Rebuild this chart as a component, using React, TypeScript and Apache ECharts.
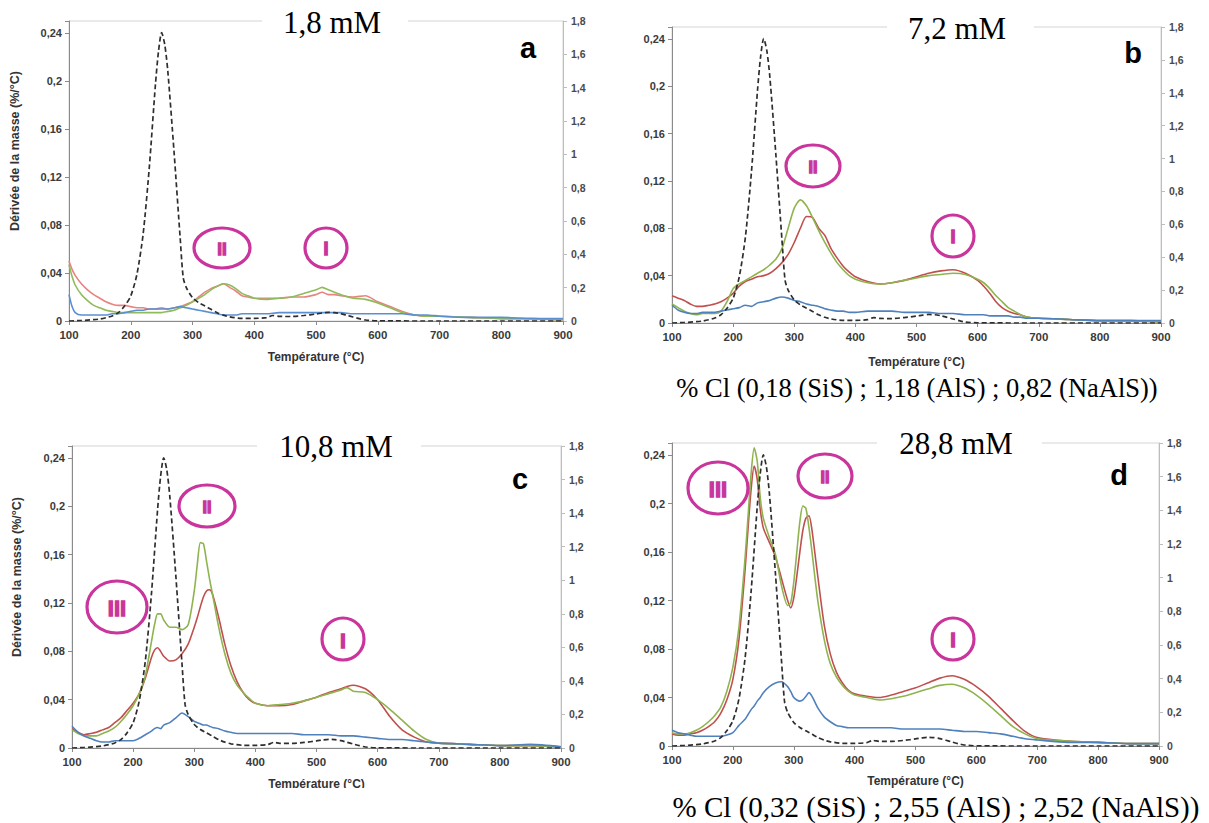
import React, { useEffect, useRef } from "react";
import * as echarts from "echarts";

// ---------- DATA ----------
// Dashed reference curve (right axis), identical in the four panels
const DASH_T = [100, 120, 140, 150, 160, 170, 180, 190, 200, 210, 220, 230, 240, 245, 250, 255, 260, 270, 280, 285, 290, 300, 310, 320, 330, 340, 350, 360, 380, 400, 420, 430, 440, 460, 480, 500, 510, 520, 530, 540, 550, 560, 570, 580, 600, 700, 800, 900];
const DASH_V = [0, 0.003, 0.008, 0.012, 0.02, 0.03, 0.05, 0.09, 0.15, 0.28, 0.52, 0.92, 1.42, 1.62, 1.73, 1.66, 1.5, 1.02, 0.5, 0.26, 0.2, 0.14, 0.11, 0.09, 0.07, 0.05, 0.035, 0.025, 0.016, 0.016, 0.02, 0.033, 0.028, 0.027, 0.033, 0.042, 0.048, 0.052, 0.05, 0.044, 0.034, 0.024, 0.014, 0.006, 0.001, 0, 0, 0];

// Panel a : 1,8 mM
const A_T = [100, 105, 110, 120, 130, 140, 150, 160, 170, 180, 190, 200, 210, 220, 230, 240, 250, 260, 270, 280, 290, 300, 310, 320, 330, 340, 350, 360, 370, 380, 390, 400, 420, 440, 460, 480, 500, 510, 520, 530, 540, 560, 580, 600, 620, 640, 660, 680, 700, 750, 800, 850, 900];
const A_RED = [0.05, 0.043, 0.038, 0.031, 0.026, 0.022, 0.019, 0.016, 0.014, 0.013, 0.013, 0.012, 0.011, 0.011, 0.01, 0.01, 0.011, 0.01, 0.011, 0.012, 0.014, 0.016, 0.02, 0.024, 0.027, 0.029, 0.031, 0.028, 0.025, 0.021, 0.02, 0.019, 0.019, 0.019, 0.02, 0.02, 0.022, 0.024, 0.022, 0.022, 0.021, 0.02, 0.021, 0.016, 0.012, 0.008, 0.005, 0.004, 0.004, 0.003, 0.002, 0.002, 0.001];
const A_GREEN = [0.047, 0.037, 0.03, 0.022, 0.017, 0.013, 0.011, 0.009, 0.008, 0.007, 0.007, 0.007, 0.007, 0.007, 0.007, 0.007, 0.007, 0.008, 0.009, 0.011, 0.013, 0.016, 0.019, 0.022, 0.026, 0.029, 0.031, 0.03, 0.027, 0.023, 0.021, 0.019, 0.018, 0.019, 0.02, 0.023, 0.026, 0.028, 0.026, 0.024, 0.022, 0.019, 0.018, 0.015, 0.011, 0.007, 0.005, 0.004, 0.004, 0.003, 0.002, 0.002, 0.001];
const A_BLUE = [0.022, 0.012, 0.007, 0.005, 0.005, 0.005, 0.005, 0.005, 0.006, 0.006, 0.007, 0.008, 0.009, 0.009, 0.01, 0.01, 0.01, 0.01, 0.011, 0.012, 0.011, 0.01, 0.009, 0.008, 0.007, 0.006, 0.005, 0.005, 0.005, 0.006, 0.006, 0.006, 0.006, 0.007, 0.007, 0.007, 0.007, 0.007, 0.007, 0.007, 0.007, 0.006, 0.006, 0.006, 0.006, 0.006, 0.005, 0.005, 0.004, 0.003, 0.003, 0.002, 0.002];

// Panel b : 7,2 mM
const B_T = [100, 110, 120, 130, 140, 150, 160, 170, 180, 190, 200, 210, 220, 230, 240, 250, 260, 270, 280, 290, 300, 310, 320, 330, 340, 350, 360, 370, 380, 390, 400, 420, 440, 460, 480, 500, 520, 540, 560, 580, 600, 610, 620, 630, 640, 650, 660, 670, 680, 700, 750, 800, 850, 900];
const B_RED = [0.023, 0.021, 0.019, 0.016, 0.014, 0.014, 0.015, 0.016, 0.018, 0.021, 0.025, 0.031, 0.035, 0.037, 0.039, 0.04, 0.042, 0.046, 0.051, 0.058, 0.068, 0.08, 0.09, 0.089, 0.08, 0.074, 0.063, 0.055, 0.048, 0.043, 0.039, 0.035, 0.033, 0.034, 0.036, 0.039, 0.042, 0.044, 0.045, 0.042, 0.036, 0.031, 0.025, 0.018, 0.013, 0.01, 0.008, 0.007, 0.005, 0.004, 0.003, 0.002, 0.002, 0.001];
const B_GREEN = [0.016, 0.013, 0.01, 0.008, 0.007, 0.008, 0.008, 0.008, 0.01, 0.018, 0.029, 0.033, 0.036, 0.039, 0.042, 0.045, 0.049, 0.054, 0.063, 0.08, 0.097, 0.104, 0.099, 0.089, 0.078, 0.068, 0.059, 0.051, 0.045, 0.04, 0.037, 0.034, 0.033, 0.034, 0.036, 0.038, 0.04, 0.041, 0.042, 0.041, 0.037, 0.034, 0.029, 0.023, 0.018, 0.013, 0.01, 0.007, 0.005, 0.004, 0.003, 0.002, 0.002, 0.001];
const B_BLUE = [0.015, 0.011, 0.009, 0.008, 0.008, 0.009, 0.009, 0.009, 0.01, 0.011, 0.012, 0.013, 0.015, 0.014, 0.017, 0.018, 0.019, 0.021, 0.022, 0.021, 0.019, 0.018, 0.016, 0.015, 0.014, 0.012, 0.011, 0.01, 0.01, 0.009, 0.009, 0.01, 0.01, 0.01, 0.009, 0.009, 0.009, 0.008, 0.008, 0.007, 0.007, 0.007, 0.006, 0.006, 0.006, 0.006, 0.005, 0.005, 0.004, 0.004, 0.003, 0.002, 0.002, 0.002];

// Panel c : 10,8 mM
const C_T = [100, 110, 120, 130, 140, 150, 160, 170, 180, 190, 200, 210, 220, 230, 235, 240, 245, 250, 260, 270, 280, 290, 300, 305, 310, 315, 320, 325, 330, 340, 350, 360, 370, 380, 390, 400, 420, 440, 460, 480, 500, 520, 540, 550, 560, 580, 600, 620, 640, 660, 680, 700, 750, 800, 850, 900];
const C_GREEN = [0.015, 0.012, 0.01, 0.01, 0.01, 0.012, 0.014, 0.017, 0.022, 0.028, 0.035, 0.045, 0.06, 0.088, 0.102, 0.111, 0.111, 0.106, 0.1, 0.1, 0.098, 0.102, 0.13, 0.152, 0.17, 0.169, 0.155, 0.14, 0.127, 0.1, 0.078, 0.062, 0.052, 0.046, 0.041, 0.037, 0.035, 0.036, 0.037, 0.039, 0.042, 0.045, 0.048, 0.05, 0.047, 0.046, 0.04, 0.032, 0.023, 0.014, 0.007, 0.004, 0.003, 0.002, 0.002, 0.001];
const C_RED = [0.016, 0.013, 0.011, 0.012, 0.013, 0.015, 0.017, 0.021, 0.025, 0.031, 0.037, 0.045, 0.058, 0.075, 0.081, 0.083, 0.08, 0.076, 0.072, 0.073, 0.078, 0.086, 0.1, 0.108, 0.117, 0.125, 0.13, 0.131, 0.127, 0.108, 0.086, 0.068, 0.055, 0.046, 0.04, 0.037, 0.035, 0.035, 0.036, 0.039, 0.042, 0.046, 0.049, 0.051, 0.052, 0.049, 0.04, 0.026, 0.015, 0.009, 0.005, 0.004, 0.003, 0.002, 0.002, 0.001];
const C_BLUE = [0.018, 0.013, 0.01, 0.008, 0.006, 0.005, 0.005, 0.006, 0.006, 0.006, 0.006, 0.008, 0.011, 0.014, 0.016, 0.017, 0.016, 0.019, 0.021, 0.025, 0.029, 0.026, 0.022, 0.021, 0.02, 0.019, 0.019, 0.018, 0.017, 0.016, 0.014, 0.013, 0.012, 0.012, 0.012, 0.012, 0.012, 0.012, 0.012, 0.011, 0.011, 0.011, 0.01, 0.01, 0.01, 0.009, 0.008, 0.007, 0.007, 0.006, 0.005, 0.004, 0.003, 0.002, 0.003, 0.001];

// Panel d : 28,8 mM
const D_T = [100, 110, 120, 130, 140, 150, 160, 170, 180, 190, 200, 210, 220, 225, 230, 235, 240, 245, 250, 260, 270, 280, 290, 295, 300, 305, 310, 315, 320, 325, 330, 335, 340, 350, 360, 370, 380, 390, 400, 420, 440, 460, 480, 500, 520, 540, 560, 580, 600, 620, 640, 660, 680, 700, 750, 800, 850, 900];
const D_GREEN = [0.011, 0.01, 0.01, 0.011, 0.013, 0.016, 0.02, 0.025, 0.032, 0.045, 0.065, 0.098, 0.155, 0.19, 0.225, 0.246, 0.235, 0.205, 0.188, 0.172, 0.158, 0.132, 0.116, 0.118, 0.135, 0.16, 0.185, 0.198, 0.196, 0.18, 0.16, 0.138, 0.118, 0.088, 0.068, 0.057, 0.05, 0.045, 0.042, 0.04, 0.038, 0.039, 0.041, 0.044, 0.047, 0.05, 0.051, 0.048, 0.042, 0.034, 0.025, 0.016, 0.01, 0.006, 0.004, 0.003, 0.002, 0.002];
const D_RED = [0.01, 0.009, 0.009, 0.01, 0.011, 0.013, 0.016, 0.02, 0.027, 0.038, 0.055, 0.088, 0.145, 0.18, 0.212, 0.231, 0.22, 0.195, 0.18, 0.168, 0.156, 0.138, 0.12, 0.114, 0.122, 0.14, 0.16, 0.178, 0.188, 0.19, 0.178, 0.158, 0.138, 0.1, 0.076, 0.061, 0.052, 0.046, 0.043, 0.041, 0.04, 0.042, 0.045, 0.048, 0.052, 0.056, 0.058, 0.055, 0.049, 0.041, 0.031, 0.021, 0.012, 0.007, 0.004, 0.003, 0.002, 0.002];
const D_BLUE = [0.013, 0.011, 0.01, 0.009, 0.008, 0.008, 0.008, 0.008, 0.008, 0.009, 0.011, 0.017, 0.022, 0.026, 0.03, 0.033, 0.037, 0.04, 0.044, 0.049, 0.052, 0.053, 0.049, 0.045, 0.04, 0.038, 0.037, 0.038, 0.041, 0.044, 0.041, 0.036, 0.031, 0.024, 0.02, 0.017, 0.016, 0.015, 0.015, 0.015, 0.015, 0.015, 0.014, 0.014, 0.014, 0.014, 0.013, 0.012, 0.012, 0.011, 0.01, 0.008, 0.006, 0.005, 0.003, 0.003, 0.002, 0.002];

// Text
const TITLES = ["1,8 mM", "7,2 mM", "10,8 mM", "28,8 mM"];
const LETTERS = ["a", "b", "c", "d"];
const CAPTION_B = "% Cl (0,18 (SiS) ; 1,18 (AlS) ; 0,82 (NaAlS))";
const CAPTION_D = "% Cl (0,32 (SiS) ; 2,55 (AlS) ; 2,52 (NaAlS))";
const Y_NAME = "Dérivée de la masse (%/°C)";
const X_NAME = "Température (°C)";

// ---------- LAYOUT ----------
const SANS = "'Liberation Sans', Arial, Helvetica, sans-serif";
const SERIF = "'Liberation Serif', 'Times New Roman', serif";
const MAG = "#c9359c";

const PANELS = [
  { grid: { left: 69, top: 21, width: 494, height: 300 }, t: A_T, red: A_RED, green: A_GREEN, blue: A_BLUE,
    colors: ["#e8847f", "#8fbb5c", "#5b8fd0"], nameGap: 30 },
  { grid: { left: 672, top: 27, width: 489, height: 296 }, t: B_T, red: B_RED, green: B_GREEN, blue: B_BLUE,
    colors: ["#c0504d", "#8fb34f", "#4f81bd"], nameGap: 33 },
  { grid: { left: 72, top: 446, width: 489, height: 302 }, t: C_T, red: C_RED, green: C_GREEN, blue: C_BLUE,
    colors: ["#c0504d", "#8fb34f", "#4f81bd"], nameGap: 30 },
  { grid: { left: 672, top: 443, width: 487, height: 303 }, t: D_T, red: D_RED, green: D_GREEN, blue: D_BLUE,
    colors: ["#c0504d", "#8fb34f", "#4f81bd"], nameGap: 29 },
];

const TITLE_POS = [
  { gap: [262, 408], x: 332, y: 22 },
  { gap: [887, 1034], x: 957, y: 28 },
  { gap: [257, 421], x: 336, y: 446 },
  { gap: [877, 1042], x: 956, y: 443 },
];
const LETTER_POS = [[528, 48], [1133, 53], [520, 479], [1119, 475]];

const CIRCLES = [
  { cx: 222, cy: 248, rx: 28, ry: 20, label: "II", fs: 17 },
  { cx: 326, cy: 248, rx: 21, ry: 20, label: "I", fs: 18 },
  { cx: 813, cy: 166, rx: 27, ry: 21, label: "II", fs: 16 },
  { cx: 953, cy: 236, rx: 21, ry: 21, label: "I", fs: 18 },
  { cx: 117, cy: 607, rx: 30, ry: 26, label: "III", fs: 22 },
  { cx: 207, cy: 506, rx: 28, ry: 21, label: "II", fs: 16 },
  { cx: 343, cy: 639, rx: 21, ry: 21, label: "I", fs: 21 },
  { cx: 718, cy: 488, rx: 30, ry: 26, label: "III", fs: 22 },
  { cx: 825, cy: 476, rx: 27, ry: 22, label: "II", fs: 16 },
  { cx: 953, cy: 639, rx: 21, ry: 21, label: "I", fs: 20 },
];

const fmt = (v: number, d: number) => String(parseFloat(v.toFixed(d))).replace(".", ",");
const pair = (t: number[], v: number[]) => t.map((x, i) => [x, v[i]]);

function buildOption() {
  const grid: any[] = [];
  const xAxis: any[] = [];
  const yAxis: any[] = [];
  const series: any[] = [];
  PANELS.forEach((p, i) => {
    grid.push({ ...p.grid, show: true, borderColor: "#d4d4d4", borderWidth: 1, backgroundColor: "transparent" });
    xAxis.push({
      type: "value", gridIndex: i, min: 100, max: 900, interval: 100,
      axisLine: { show: true, lineStyle: { color: "#8a8a8a", width: 1 } },
      axisTick: { show: true, length: 4, lineStyle: { color: "#8a8a8a" } },
      splitLine: { show: false },
      axisLabel: { margin: 8, color: "#3a3a3a", fontSize: 11.5, fontWeight: "bold", fontFamily: SANS },
      name: X_NAME, nameLocation: "middle", nameGap: p.nameGap,
      nameTextStyle: { color: "#333", fontSize: 12, fontWeight: "bold", fontFamily: SANS },
    });
    yAxis.push({
      type: "value", gridIndex: i, min: 0, max: 0.25, interval: 0.04, position: "left",
      axisLine: { show: true, lineStyle: { color: "#8a8a8a", width: 1 } },
      axisTick: { show: true, length: 4, lineStyle: { color: "#8a8a8a" } },
      splitLine: { show: false },
      axisLabel: {
        margin: 7, color: "#3a3a3a", fontSize: 11, fontWeight: "bold", fontFamily: SANS,
        formatter: (v: number) => (v > 0.245 ? "" : fmt(v, 2)),
      },
    });
    yAxis.push({
      type: "value", gridIndex: i, min: 0, max: 1.8, interval: 0.2, position: "right",
      axisLine: { show: true, lineStyle: { color: "#bdbdbd", width: 1 } },
      axisTick: { show: true, length: 4, lineStyle: { color: "#bdbdbd" } },
      splitLine: { show: false },
      axisLabel: { margin: 8, color: "#4a4a4a", fontSize: 10.5, fontWeight: "bold", fontFamily: SANS, formatter: (v: number) => fmt(v, 1) },
    });
    const vals = [p.red, p.green, p.blue];
    vals.forEach((v, k) => {
      series.push({
        type: "line", xAxisIndex: i, yAxisIndex: 2 * i, data: pair(p.t, v),
        symbol: "none", smooth: 0.25, silent: true,
        lineStyle: { color: p.colors[k], width: 1.6 },
      });
    });
    series.push({
      type: "line", xAxisIndex: i, yAxisIndex: 2 * i + 1, data: pair(DASH_T, DASH_V),
      symbol: "none", smooth: 0.25, silent: true,
      lineStyle: { color: "#2e2e2e", width: 1.7, type: [5, 3] },
    });
  });

  const graphic: any[] = [];
  TITLE_POS.forEach((tp, i) => {
    graphic.push({ type: "rect", z: 100, shape: { x: tp.gap[0], y: tp.y - 12, width: tp.gap[1] - tp.gap[0], height: 20 }, style: { fill: "#ffffff" } });
    graphic.push({ type: "text", z: 101, x: tp.x, y: tp.y, style: { text: TITLES[i], fontSize: 31, fontFamily: SERIF, fill: "#000", align: "center", verticalAlign: "middle" } });
    graphic.push({ type: "text", z: 101, x: LETTER_POS[i][0], y: LETTER_POS[i][1], style: { text: LETTERS[i], fontSize: 29, fontWeight: "bold", fontFamily: SANS, fill: "#000", align: "center", verticalAlign: "middle" } });
  });
  CIRCLES.forEach((c) => {
    graphic.push({ type: "ellipse", z: 101, shape: { cx: c.cx, cy: c.cy, rx: c.rx, ry: c.ry }, style: { fill: "none", stroke: MAG, lineWidth: 3.2 } });
    graphic.push({ type: "text", z: 102, x: c.cx, y: c.cy + 1, style: { text: c.label, fontSize: c.fs, fontWeight: "bold", fontFamily: SANS, fill: MAG, stroke: MAG, lineWidth: 1.3, align: "center", verticalAlign: "middle" } });
  });
  // clip bottom of panel c's axis title
  graphic.push({ type: "rect", z: 100, shape: { x: 0, y: 788, width: 600, height: 40 }, style: { fill: "#ffffff" } });
  graphic.push({ type: "text", z: 101, x: 917, y: 388, style: { text: CAPTION_B, fontSize: 26.5, fontFamily: SERIF, fill: "#000", align: "center", verticalAlign: "middle" } });
  graphic.push({ type: "text", z: 101, x: 936, y: 807, style: { text: CAPTION_D, fontSize: 29, fontFamily: SERIF, fill: "#000", align: "center", verticalAlign: "middle" } });
  graphic.push({ type: "text", z: 101, x: 15, y: 151, rotation: Math.PI / 2, style: { text: Y_NAME, fontSize: 12.5, fontWeight: "bold", fontFamily: SANS, fill: "#333", align: "center", verticalAlign: "middle" } });
  graphic.push({ type: "text", z: 101, x: 17, y: 577, rotation: Math.PI / 2, style: { text: Y_NAME, fontSize: 12.5, fontWeight: "bold", fontFamily: SANS, fill: "#333", align: "center", verticalAlign: "middle" } });

  return { animation: false, backgroundColor: "#ffffff", grid, xAxis, yAxis, series, graphic };
}

export default function App() {
  const ref = useRef<HTMLDivElement>(null);
  useEffect(() => {
    if (!ref.current) return;
    const chart = echarts.init(ref.current, undefined, { renderer: "svg" });
    chart.setOption(buildOption() as any);
    return () => chart.dispose();
  }, []);
  return <div ref={ref} style={{ position: "absolute", left: 0, top: 0, width: 1209, height: 823, background: "#fff" }} />;
}
